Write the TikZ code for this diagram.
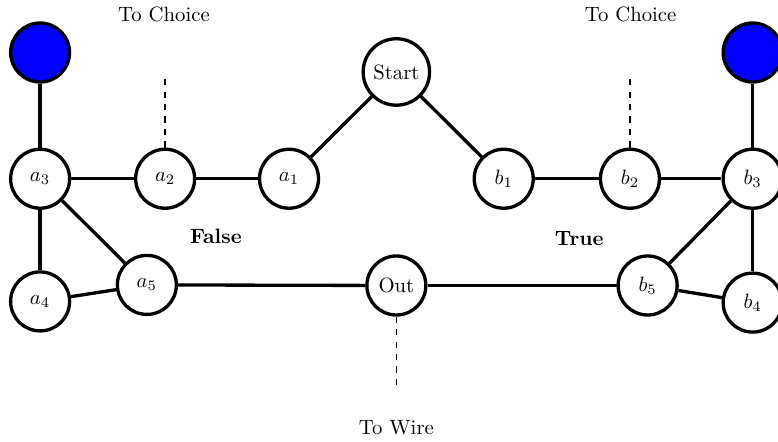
\documentclass[tikz,border=0pt]{standalone}
\begin{document}
\begin{tikzpicture}[scale=1,
		knoten/.style={circle, draw, line width=1.6pt, fill=white, minimum size=1cm},
		quelle/.style={knoten, fill=blue},
		kante/.style={line width=1.6pt},
		leitung/.style={thick, dashed}]
	\useasboundingbox (-0.68,-4.46) rectangle (12.51,3.03);
	
	% Knoten oben
	\node[quelle] (qa) at (0,2.14) {};
	\node[quelle] (qb) at (12.08,2.14) {};
	\node[knoten] (start) at (6.04,1.81) {Start};
	
	% Zweig False
	\node[knoten] (a3) at (0,0) {$a_3$};
	\node[knoten] (a2) at (2.12,0) {$a_2$};
	\node[knoten] (a1) at (4.22,0) {$a_1$};
	\node[knoten] (a5) at (1.81,-1.8) {$a_5$};
	\node[knoten] (a4) at (0,-2.08) {$a_4$};
	
	% Zweig True
	\node[knoten] (b1) at (7.86,0) {$b_1$};
	\node[knoten] (b2) at (10,0) {$b_2$};
	\node[knoten] (b3) at (12.08,0) {$b_3$};
	\node[knoten] (b5) at (10.3,-1.81) {$b_5$};
	\node[knoten] (b4) at (12.08,-2.1) {$b_4$};
	
	% Ausgang
	\node[knoten] (out) at (6.04,-1.81) {Out};
	
	% Beschriftungen
	\node (lfalse) at (2.98,-0.98) {\textbf{False}};
	\node (ltrue) at (9.14,-1.02) {\textbf{True}};
	\coordinate (za) at (2.12,1.73);
	\coordinate (zb) at (10,1.73);
	\coordinate (zo) at (6.04,-3.54);
	\node (choicea) at (2.1,2.78) {To Choice};
	\node (choiceb) at (10.01,2.78) {To Choice};
	\node (wire) at (6.04,-4.22) {To Wire};
	
	% Kanten
	\draw[kante] (qa) -- (a3);
	\draw[kante] (a3) -- (a2);
	\draw[kante] (a2) -- (a1);
	\draw[kante] (a1) -- (start);
	\draw[kante] (start) -- (b1);
	\draw[kante] (b1) -- (b2);
	\draw[kante] (b2) -- (b3);
	\draw[kante] (b3) -- (qb);
	\draw[kante] (a3) -- (a4);
	\draw[kante] (a3) -- (a5);
	\draw[kante] (a4) -- (a5);
	\draw[kante] (a5) -- (out);
	\draw[kante] (out) -- (b5);
	\draw[kante] (b5) -- (b3);
	\draw[kante] (b5) -- (b4);
	\draw[kante] (b3) -- (b4);
	
	% Leitungen nach aussen
	\draw[leitung] (a2) -- (za);
	\draw[leitung] (b2) -- (zb);
	\draw[leitung] (out) -- (zo);
	
\end{tikzpicture}
\end{document}
